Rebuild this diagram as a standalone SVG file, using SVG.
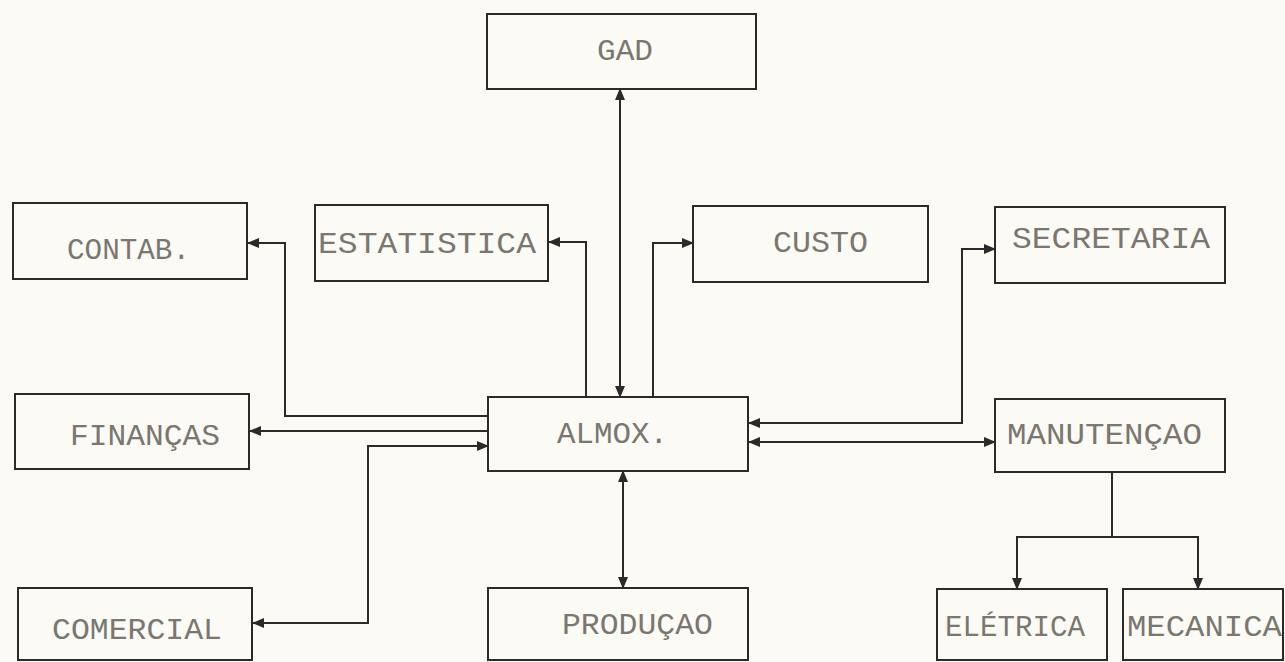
<svg xmlns="http://www.w3.org/2000/svg" width="1285" height="662" viewBox="0 0 1285 662">
<style>
.box{fill:none;stroke:#2a2a2a;stroke-width:2}
.lbl{font-family:"Liberation Mono","DejaVu Sans Mono",monospace;font-size:29px;fill:#7a7670}
.con{fill:none;stroke:#2a2a2a;stroke-width:2}
</style>
<defs>
<marker id="ah" markerUnits="userSpaceOnUse" markerWidth="12" markerHeight="10" refX="11" refY="5" orient="auto-start-reverse">
<path d="M0,0 L12,5 L0,10 Z" fill="#2a2a2a"/>
</marker>
</defs>
<rect width="1285" height="662" fill="#fbfaf5"/>
<g id="connectors">
<path class="con" d="M620,89 V397" marker-start="url(#ah)" marker-end="url(#ah)"/>
<path class="con" d="M488,416 H285 V243 H248" marker-end="url(#ah)"/>
<path class="con" d="M586,397 V242 H549" marker-end="url(#ah)"/>
<path class="con" d="M653,397 V243 H693" marker-end="url(#ah)"/>
<path class="con" d="M749,423 H962 V249 H995" marker-start="url(#ah)" marker-end="url(#ah)"/>
<path class="con" d="M749,442 H995" marker-start="url(#ah)" marker-end="url(#ah)"/>
<path class="con" d="M488,431 H250" marker-end="url(#ah)"/>
<path class="con" d="M253,623 H368 V446 H488" marker-start="url(#ah)" marker-end="url(#ah)"/>
<path class="con" d="M623,471 V588" marker-start="url(#ah)" marker-end="url(#ah)"/>
<path class="con" d="M1112,472 V537 H1017 V589" marker-end="url(#ah)"/>
<path class="con" d="M1112,537 H1198 V589" marker-end="url(#ah)"/>
</g>
<g id="gad"><rect class="box" x="487" y="14" width="269" height="75"/><text class="lbl" x="597" y="60" textLength="56" lengthAdjust="spacingAndGlyphs">GAD</text></g>
<g id="contab"><rect class="box" x="13" y="203" width="234" height="76"/><text class="lbl" x="67" y="259" textLength="123" lengthAdjust="spacingAndGlyphs">CONTAB.</text></g>
<g id="estatistica"><rect class="box" x="315" y="205" width="233" height="76"/><text class="lbl" x="318" y="253" textLength="218" lengthAdjust="spacingAndGlyphs">ESTATISTICA</text></g>
<g id="custo"><rect class="box" x="693" y="206" width="235" height="76"/><text class="lbl" x="773" y="252" textLength="95" lengthAdjust="spacingAndGlyphs">CUSTO</text></g>
<g id="secretaria"><rect class="box" x="995" y="207" width="230" height="76"/><text class="lbl" x="1012" y="248" textLength="198" lengthAdjust="spacingAndGlyphs">SECRETARIA</text></g>
<g id="financas"><rect class="box" x="15" y="394" width="234" height="75"/><text class="lbl" x="70" y="445" textLength="150" lengthAdjust="spacingAndGlyphs">FINANÇAS</text></g>
<g id="almox"><rect class="box" x="488" y="397" width="260" height="74"/><text class="lbl" x="557" y="443" textLength="111" lengthAdjust="spacingAndGlyphs">ALMOX.</text></g>
<g id="manutencao"><rect class="box" x="995" y="399" width="230" height="73"/><text class="lbl" x="1007" y="444" textLength="195" lengthAdjust="spacingAndGlyphs">MANUTENÇAO</text></g>
<g id="comercial"><rect class="box" x="18" y="588" width="234" height="72"/><text class="lbl" x="52" y="639" textLength="170" lengthAdjust="spacingAndGlyphs">COMERCIAL</text></g>
<g id="producao"><rect class="box" x="488" y="588" width="260" height="72"/><text class="lbl" x="562" y="634" textLength="151" lengthAdjust="spacingAndGlyphs">PRODUÇAO</text></g>
<g id="eletrica"><rect class="box" x="937" y="589" width="170" height="71"/><text class="lbl" x="945" y="636" textLength="140" lengthAdjust="spacingAndGlyphs">ELÉTRICA</text></g>
<g id="mecanica"><rect class="box" x="1123" y="589" width="160" height="71"/><text class="lbl" x="1127" y="636" textLength="155" lengthAdjust="spacingAndGlyphs">MECANICA</text></g>
</svg>
